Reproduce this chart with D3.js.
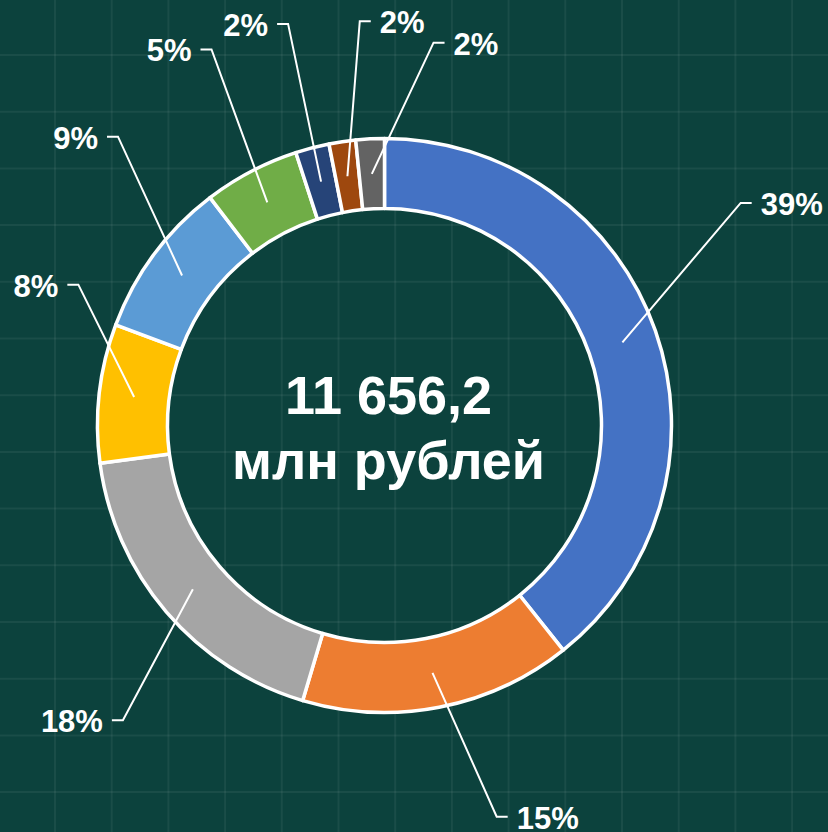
<!DOCTYPE html>
<html>
<head>
<meta charset="utf-8">
<script src="https://cdn.jsdelivr.net/npm/d3@7"></script>
<style>
  html, body { margin: 0; padding: 0; background: #0c423d; }
  svg { display: block; }
</style>
</head>
<body>
<div id="chart"></div>
<script>
// Structure of spending, share of total, %
const categories = ["s1", "s2", "s3", "s4", "s5", "s6", "s7", "s8", "s9"];
const shares = [39.3, 15.3, 18.3, 7.8, 8.9, 5.4, 1.9, 1.5, 1.6];
const colors = ["#4472C4", "#ED7D31", "#A5A5A5", "#FFC000", "#5B9BD5",
                "#70AD47", "#264478", "#9E480E", "#636363"];
const totalLines = ["11 656,2", "млн рублей"];

// label elbow placement (polar: degrees clockwise from top, radius px)
const labelPos = [[58.0, 420], [164.0, 407], [221.6, 394], [294.7, 337], [317.3, 393],
                  [335.3, 414], [346.5, 413], [356.5, 405], [7.3, 386]];

const W = 828, H = 832;
const cx = 384.5, cy = 425.5;
const rOuter = 287, rInner = 217;

const svg = d3.select("#chart").append("svg")
  .attr("width", W).attr("height", H);

svg.append("rect").attr("width", W).attr("height", H).attr("fill", "#0c423d");

// faint background grid
const grid = svg.append("g")
  .attr("stroke", "#ffffff").attr("stroke-opacity", 0.06).attr("stroke-width", 2);
d3.range(55, W, 56.7).forEach(x => {
  grid.append("line").attr("x1", x).attr("x2", x).attr("y1", 0).attr("y2", H);
});
d3.range(55, H, 56.7).forEach(y => {
  grid.append("line").attr("y1", y).attr("y2", y).attr("x1", 0).attr("x2", W);
});

const g = svg.append("g").attr("transform", `translate(${cx},${cy})`);

const pie = d3.pie().sort(null).value(d => d);
const arcs = pie(shares);
const arc = d3.arc().innerRadius(rInner).outerRadius(rOuter);

g.selectAll("path.slice")
  .data(arcs)
  .enter().append("path")
  .attr("class", "slice")
  .attr("d", arc)
  .attr("fill", (d, i) => colors[i])
  .attr("stroke", "#ffffff")
  .attr("stroke-width", 3.5)
  .attr("stroke-linejoin", "round");

// leader lines + labels
const tick = 11, gap = 9;
arcs.forEach((d, i) => {
  const [sx, sy] = arc.centroid(d);
  const [ex, ey] = d3.pointRadial(labelPos[i][0] * Math.PI / 180, labelPos[i][1]);
  const dir = ex >= sx ? 1 : -1;
  const tx = ex + dir * tick;

  g.append("path")
    .attr("d", `M${sx},${sy}L${ex},${ey}L${tx},${ey}`)
    .attr("fill", "none")
    .attr("stroke", "#ffffff")
    .attr("stroke-width", 2);

  g.append("text")
    .attr("x", tx + dir * gap)
    .attr("y", ey + 12)
    .attr("text-anchor", dir > 0 ? "start" : "end")
    .attr("fill", "#ffffff")
    .style("font-family", "'Liberation Sans', Arial, sans-serif")
    .style("font-weight", "bold")
    .style("font-size", "31px")
    .text(Math.round(d.value) + "%");
});

// total in the middle
g.selectAll("text.total")
  .data(totalLines)
  .enter().append("text")
  .attr("class", "total")
  .attr("x", 4)
  .attr("y", (d, i) => -12 + i * 65)
  .attr("text-anchor", "middle")
  .attr("fill", "#ffffff")
  .style("font-family", "'Liberation Sans', Arial, sans-serif")
  .style("font-weight", "bold")
  .style("font-size", "54px")
  .text(d => d);
</script>
</body>
</html>
